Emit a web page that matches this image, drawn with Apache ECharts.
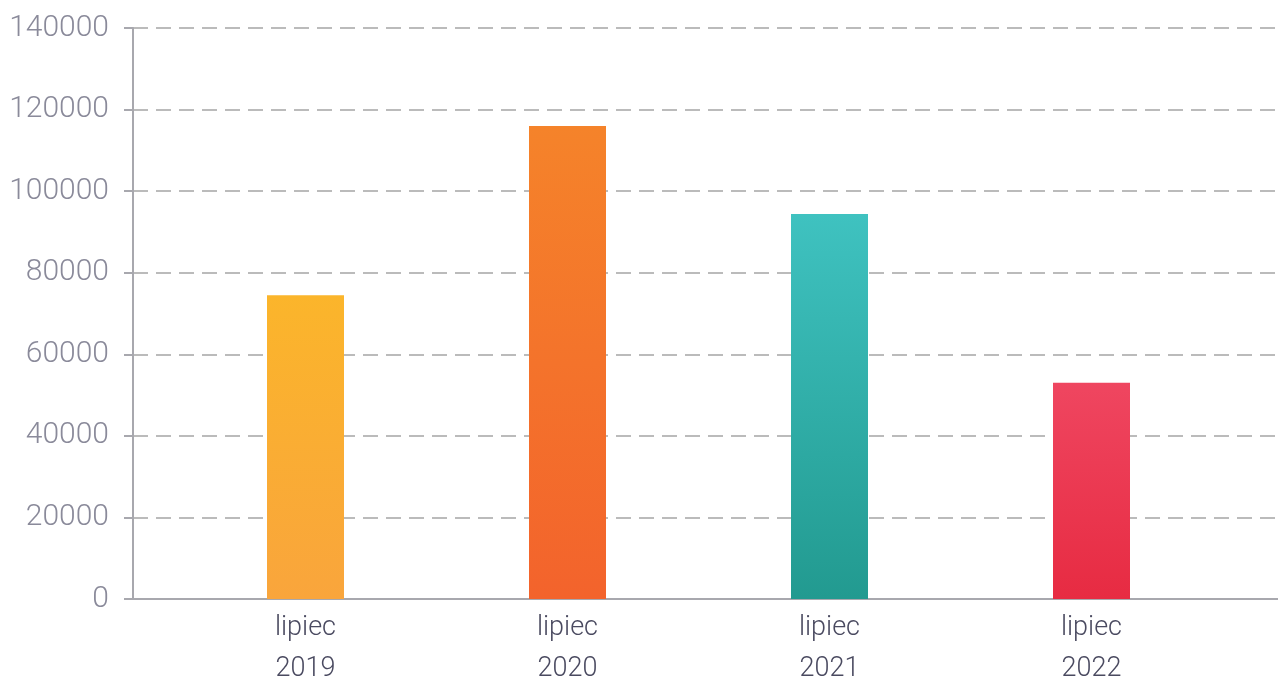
<!DOCTYPE html>
<html>
<head>
<meta charset="utf-8">
<script src="https://cdn.jsdelivr.net/npm/echarts@6/dist/echarts.min.js"></script>
<style>
  html, body { margin: 0; padding: 0; background: #fff; }
  #chart { width: 1278px; height: 681px; }
</style>
</head>
<body>
<div id="chart"></div>
<script>
// dane
const categories = ['lipiec\n2019', 'lipiec\n2020', 'lipiec\n2021', 'lipiec\n2022'];
const values = [74500, 116000, 94400, 53000];
const yTicks = [0, 20000, 40000, 60000, 80000, 100000, 120000, 140000];

// kolory słupków (góra -> dół)
const topColors = ['#FBB52B', '#F5832A', '#3FC2C0', '#EF4660'];
const bottomColors = ['#F9A53C', '#F3632C', '#229A90', '#E72B42'];

const chart = echarts.init(document.getElementById('chart'));

const barData = values.map((v, i) => ({
  value: v,
  itemStyle: {
    color: new echarts.graphic.LinearGradient(0, 0, 0, 1, [
      { offset: 0, color: topColors[i] },
      { offset: 1, color: bottomColors[i] }
    ])
  }
}));

const yMin = yTicks[0];
const yMax = yTicks[yTicks.length - 1];
const yStep = yTicks[1] - yTicks[0];

chart.setOption({
  animation: false,
  textStyle: { fontFamily: 'Roboto' },
  grid: [
    // siatka z osią Y i liniami pomocniczymi
    { left: 133, right: 0, top: 28, bottom: 82, containLabel: false, outerBoundsMode: 'none' },
    // siatka ze słupkami
    { left: 174.5, width: 1048, top: 28, bottom: 82, containLabel: false, outerBoundsMode: 'none' }
  ],
  xAxis: [
    {
      gridIndex: 0,
      type: 'category',
      data: categories,
      axisLine: { show: true, lineStyle: { color: '#A8A8AE', width: 2 } },
      axisTick: { show: false },
      axisLabel: { show: false },
      splitLine: { show: false }
    },
    {
      gridIndex: 1,
      type: 'category',
      data: categories,
      axisLine: { show: false },
      axisTick: { show: false },
      axisLabel: {
        color: '#4A4A60',
        fontSize: 27,
        fontWeight: 300,
        lineHeight: 41,
        margin: 9
      }
    }
  ],
  yAxis: [
    {
      gridIndex: 0,
      type: 'value',
      min: yMin,
      max: yMax,
      interval: yStep,
      axisLine: { show: true, lineStyle: { color: '#A8A8AE', width: 2 } },
      axisTick: { show: true, length: 9, lineStyle: { color: '#A8A8AE', width: 2 } },
      axisLabel: {
        color: '#8A8A9A',
        fontSize: 30,
        fontWeight: 300,
        margin: 24,
        formatter: v => String(v)
      },
      splitLine: {
        show: true,
        lineStyle: { color: '#A5A5A5', width: 1.5, type: [15, 8] }
      }
    },
    {
      gridIndex: 1,
      type: 'value',
      min: yMin,
      max: yMax,
      interval: yStep,
      show: false,
      splitLine: { show: false }
    }
  ],
  series: [
    {
      type: 'bar',
      xAxisIndex: 1,
      yAxisIndex: 1,
      barWidth: 77,
      data: barData
    }
  ]
});
</script>
</body>
</html>
